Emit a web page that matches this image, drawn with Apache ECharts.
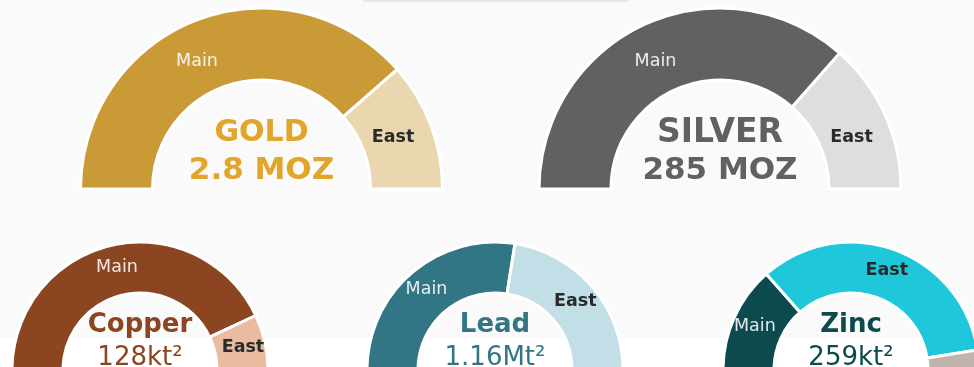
<!DOCTYPE html>
<html>
<head>
<meta charset="utf-8">
<script src="https://cdn.jsdelivr.net/npm/echarts@6/dist/echarts.min.js"></script>
<style>
  html, body { margin: 0; padding: 0; background: #fafafa; }
  #chart { width: 974px; height: 367px; }
</style>
</head>
<body>
<div id="chart"></div>
<script>
// Resource split by zone for each metal (percent of the half ring)
const metals = ['GOLD', 'SILVER', 'Copper', 'Lead', 'Zinc'];
const totals = ['2.8 MOZ', '285 MOZ', '128kt²', '1.16Mt²', '259kt²'];
const zones = ['Main', 'East', 'Other'];
const mainShare = [77, 73, 86, 55, 27];
const eastShare = [23, 27, 14, 45, 68];
const otherShare = [0, 0, 0, 0, 5];

// Styling per metal
const mainColors = ['#c99a36', '#616163', '#8b4520', '#327585', '#0c4a4e'];
const eastColors = ['#ead7b0', '#dedede', '#ebbba0', '#c2dfe7', '#1ec8da'];
const otherColor = '#bfb3ab';
const textColors = ['#e2a52a', '#616163', '#8b4520', '#327585', '#0c4a4e'];
const centers = [[261.5, 189], [720, 189], [140, 370], [495, 370], [851, 370]];
const radii = [[109, 181], [109, 181], [77, 128], [77, 128], [77, 128]];
const titleSizes = [30, 33, 26, 26, 26];
const totalSizes = [31, 31, 26, 26, 26];

// Fixed zone-label anchors (relative to the centre) used by the two large rings
const bigLabelAnchor = { Main: [-64.5, -128], East: [131.5, -52] };

const FONT = 'DejaVu Sans, Verdana, sans-serif';

const chart = echarts.init(document.getElementById('chart'), null, { renderer: 'canvas' });

const series = metals.map((m, i) => {
  const values = [mainShare[i], eastShare[i], otherShare[i]];
  const colors = [mainColors[i], eastColors[i], otherColor];
  const data = [];
  values.forEach((v, k) => {
    if (v <= 0) return;
    const item = {
      name: zones[k],
      value: v,
      itemStyle: { color: colors[k] }
    };
    if (k === 0) {
      item.label = { color: 'rgba(255,255,255,0.88)', fontWeight: 'normal' };
    } else if (k === 1) {
      item.label = { color: '#2a2a2a', fontWeight: 'bold' };
    } else {
      item.label = { show: false };
    }
    data.push(item);
  });
  const s = {
    type: 'pie',
    name: m,
    center: centers[i],
    radius: radii[i],
    startAngle: 180,
    endAngle: 0,
    clockwise: true,
    avoidLabelOverlap: false,
    silent: true,
    itemStyle: { borderColor: '#ffffff', borderWidth: 3 },
    label: {
      show: true,
      position: 'inside',
      formatter: '{b}',
      fontFamily: FONT,
      fontSize: 17.5
    },
    labelLine: { show: false },
    emphasis: { disabled: true },
    data: data
  };
  if (i < 2) {
    const [cx, cy] = centers[i];
    s.labelLayout = function (p) {
      const a = bigLabelAnchor[data[p.dataIndex].name];
      if (!a) return {};
      const r = p.labelRect;
      return {
        dx: cx + a[0] - (r.x + r.width / 2),
        dy: cy + a[1] - (r.y + r.height / 2)
      };
    };
  }
  return s;
});

// Centre captions: big metals on two bold lines, small metals bold name + regular total
const captions = [];
metals.forEach((m, i) => {
  const [cx, cy] = centers[i];
  const big = i < 2;
  captions.push({
    type: 'text', x: cx, y: big ? cy - 56 : cy - 45, z: 10,
    style: { text: m, fill: textColors[i], font: 'bold ' + titleSizes[i] + 'px ' + FONT, textAlign: 'center', textVerticalAlign: 'middle' }
  });
  captions.push({
    type: 'text', x: cx, y: big ? cy - 18 : cy - 12, z: 10,
    style: { text: totals[i], fill: textColors[i], font: (big ? 'bold ' : '') + totalSizes[i] + 'px ' + FONT, textAlign: 'center', textVerticalAlign: 'middle' }
  });
});

chart.setOption({
  backgroundColor: '#fafafa',
  animation: false,
  graphic: [
    // lower panel band
    { type: 'rect', shape: { x: 0, y: 338, width: 974, height: 29 }, style: { fill: '#ffffff' }, z: -10, silent: true },
    // thin strip at the top edge
    { type: 'rect', shape: { x: 363, y: 0, width: 265, height: 2 }, style: { fill: '#e3e8ed' }, z: -10, silent: true }
  ].concat(captions),
  series: series
});
</script>
</body>
</html>
